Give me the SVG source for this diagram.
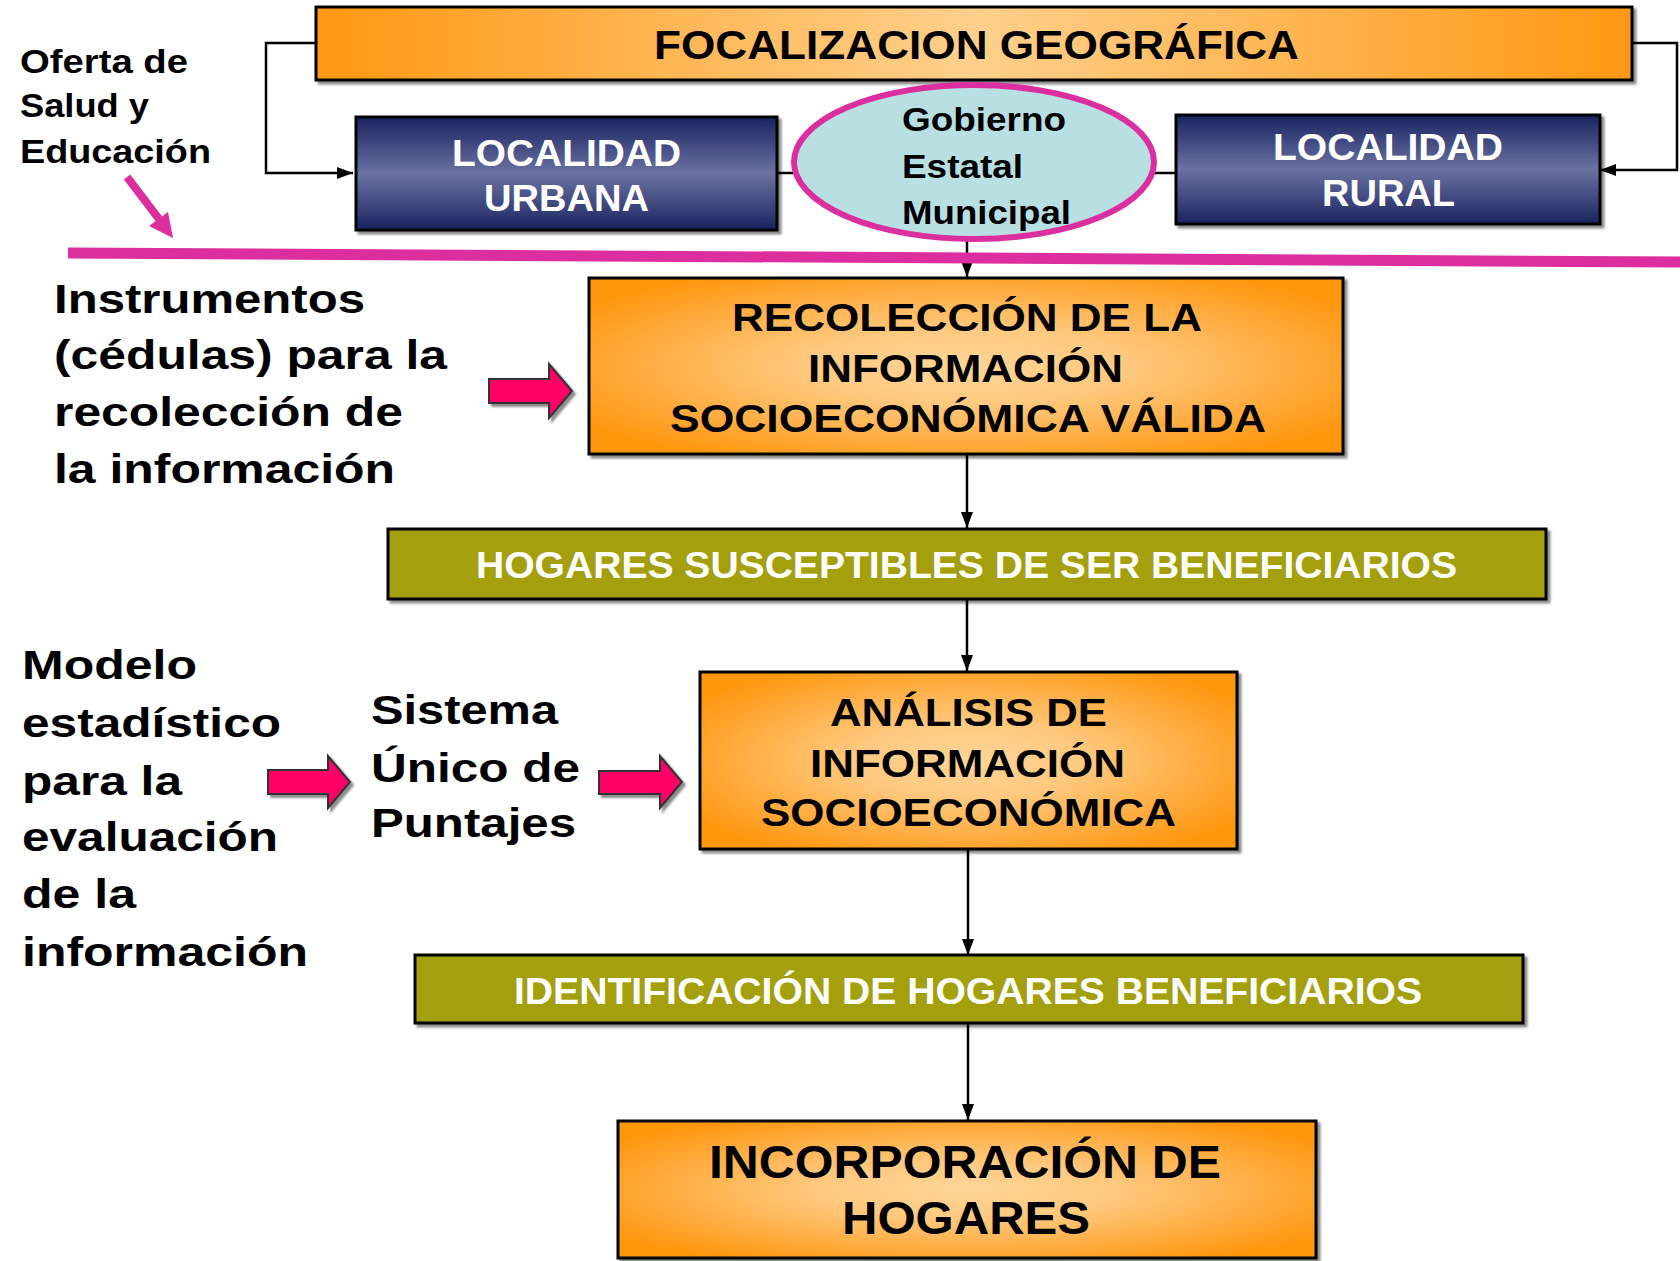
<svg xmlns="http://www.w3.org/2000/svg" width="1680" height="1261" viewBox="0 0 1680 1261">
<defs>
<linearGradient id="gFocal" x1="0" y1="0" x2="1" y2="0">
<stop offset="0" stop-color="#FF9812"/>
<stop offset="0.5" stop-color="#FFD08C"/>
<stop offset="1" stop-color="#FF9812"/>
</linearGradient>
<radialGradient id="gOrange" cx="0.5" cy="0.5" r="0.6">
<stop offset="0" stop-color="#FFD597"/>
<stop offset="0.35" stop-color="#FFC97F"/>
<stop offset="1" stop-color="#FF9710"/>
</radialGradient>
<linearGradient id="gNavy" x1="0" y1="0" x2="0" y2="1">
<stop offset="0" stop-color="#1A2360"/>
<stop offset="0.5" stop-color="#6A72A2"/>
<stop offset="1" stop-color="#1A2360"/>
</linearGradient>
<filter id="sh" x="-5%" y="-5%" width="110%" height="120%">
<feDropShadow dx="3" dy="3" stdDeviation="1.2" flood-color="#000" flood-opacity="0.45"/>
</filter>
<marker id="ah" viewBox="0 0 16 12" refX="16" refY="6" markerWidth="16" markerHeight="12" markerUnits="userSpaceOnUse" orient="auto">
<path d="M0,0 L16,6 L0,12 z" fill="#000"/>
</marker>
</defs>
<style>
.t{font-family:"Liberation Sans",Arial,sans-serif;font-weight:bold}
.k{fill:#000}
.w{fill:#fff}
.box{stroke:#000;stroke-width:3}
.con{fill:none;stroke:#000;stroke-width:2.5}
.blk{fill:#FF0066;stroke:#333;stroke-width:2}
</style>
<rect width="1680" height="1261" fill="#fff"/>

<g id="connectors">
<path class="con" d="M316,43 H266 V173 H353" marker-end="url(#ah)"/>
<path class="con" d="M1632,43 H1677 V170 H1600" marker-end="url(#ah)"/>
<path class="con" d="M777,173 H796"/>
<path class="con" d="M1152,173 H1176"/>
<path class="con" d="M967,240 V277" marker-end="url(#ah)"/>
<path class="con" d="M967,454 V528" marker-end="url(#ah)"/>
<path class="con" d="M967,599 V671" marker-end="url(#ah)"/>
<path class="con" d="M968,850 V955" marker-end="url(#ah)"/>
<path class="con" d="M968,1023 V1120" marker-end="url(#ah)"/>
</g>

<g id="focalizacion">
<rect class="box" x="316" y="7" width="1316" height="73" fill="url(#gFocal)" filter="url(#sh)"/>
<text class="t k" x="654" y="59" font-size="40" textLength="645" lengthAdjust="spacingAndGlyphs">FOCALIZACION GEOGRÁFICA</text>
</g>

<g id="urbana">
<rect class="box" x="356" y="117" width="421" height="113" fill="url(#gNavy)" filter="url(#sh)"/>
<text class="t w" font-size="37"><tspan x="452" y="166" textLength="229" lengthAdjust="spacingAndGlyphs">LOCALIDAD</tspan><tspan x="484" y="211" textLength="165" lengthAdjust="spacingAndGlyphs">URBANA</tspan></text>
</g>

<g id="rural">
<rect class="box" x="1176" y="115" width="424" height="109" fill="url(#gNavy)" filter="url(#sh)"/>
<text class="t w" font-size="37"><tspan x="1273" y="160" textLength="230" lengthAdjust="spacingAndGlyphs">LOCALIDAD</tspan><tspan x="1322" y="206" textLength="133" lengthAdjust="spacingAndGlyphs">RURAL</tspan></text>
</g>

<g id="gobierno">
<ellipse cx="974" cy="162" rx="180" ry="77" fill="#B8E0E3" stroke="#DB2F9F" stroke-width="6"/>
<text class="t k" font-size="34"><tspan x="902" y="131" textLength="164" lengthAdjust="spacingAndGlyphs">Gobierno</tspan><tspan x="902" y="178" textLength="121" lengthAdjust="spacingAndGlyphs">Estatal</tspan><tspan x="902" y="224" textLength="169" lengthAdjust="spacingAndGlyphs">Municipal</tspan></text>
</g>

<g id="oferta">
<text class="t k" font-size="34"><tspan x="20" y="73" textLength="168" lengthAdjust="spacingAndGlyphs">Oferta de</tspan><tspan x="20" y="117" textLength="129" lengthAdjust="spacingAndGlyphs">Salud y</tspan><tspan x="20" y="163" textLength="191" lengthAdjust="spacingAndGlyphs">Educación</tspan></text>
<path d="M127,177 L159,219" stroke="#DC2E9E" stroke-width="8" fill="none"/>
<path d="M173,238 L149,226 L168,212 z" fill="#DC2E9E"/>
</g>

<g id="divider">
<path d="M68,253 L1680,262" stroke="#DC2E9E" stroke-width="11" fill="none"/>
</g>

<g id="instrumentos">
<text class="t k" font-size="40"><tspan x="54" y="313" textLength="311" lengthAdjust="spacingAndGlyphs">Instrumentos</tspan><tspan x="54" y="369" textLength="393" lengthAdjust="spacingAndGlyphs">(cédulas) para la</tspan><tspan x="54" y="426" textLength="349" lengthAdjust="spacingAndGlyphs">recolección de</tspan><tspan x="54" y="483" textLength="341" lengthAdjust="spacingAndGlyphs">la información</tspan></text>
<path class="blk" d="M489,379 H549 V364 L572,391 L549,418 V403 H489 Z" filter="url(#sh)"/>
</g>

<g id="recoleccion">
<rect class="box" x="589" y="278" width="754" height="176" fill="url(#gOrange)" filter="url(#sh)"/>
<text class="t k" font-size="38"><tspan x="732" y="331" textLength="470" lengthAdjust="spacingAndGlyphs">RECOLECCIÓN DE LA</tspan><tspan x="808" y="382" textLength="315" lengthAdjust="spacingAndGlyphs">INFORMACIÓN</tspan><tspan x="670" y="432" textLength="596" lengthAdjust="spacingAndGlyphs">SOCIOECONÓMICA VÁLIDA</tspan></text>
</g>

<g id="susceptibles">
<rect class="box" x="388" y="529" width="1158" height="70" fill="#A4A011" filter="url(#sh)"/>
<text class="t w" x="476" y="578" font-size="37" textLength="981" lengthAdjust="spacingAndGlyphs">HOGARES SUSCEPTIBLES DE SER BENEFICIARIOS</text>
</g>

<g id="modelo">
<text class="t k" font-size="40"><tspan x="22" y="679" textLength="175" lengthAdjust="spacingAndGlyphs">Modelo</tspan><tspan x="22" y="737" textLength="259" lengthAdjust="spacingAndGlyphs">estadístico</tspan><tspan x="22" y="795" textLength="160" lengthAdjust="spacingAndGlyphs">para la</tspan><tspan x="22" y="851" textLength="256" lengthAdjust="spacingAndGlyphs">evaluación</tspan><tspan x="22" y="908" textLength="114" lengthAdjust="spacingAndGlyphs">de la</tspan><tspan x="22" y="966" textLength="286" lengthAdjust="spacingAndGlyphs">información</tspan></text>
<path class="blk" d="M268,770 H328 V756 L350,782 L328,808 V794 H268 Z" filter="url(#sh)"/>
</g>

<g id="sistema">
<text class="t k" font-size="40"><tspan x="371" y="724" textLength="187" lengthAdjust="spacingAndGlyphs">Sistema</tspan><tspan x="371" y="782" textLength="209" lengthAdjust="spacingAndGlyphs">Único de</tspan><tspan x="371" y="837" textLength="205" lengthAdjust="spacingAndGlyphs">Puntajes</tspan></text>
<path class="blk" d="M599,771 H660 V756 L682,782 L660,808 V794 H599 Z" filter="url(#sh)"/>
</g>

<g id="analisis">
<rect class="box" x="700" y="672" width="537" height="177" fill="url(#gOrange)" filter="url(#sh)"/>
<text class="t k" font-size="38"><tspan x="830" y="726" textLength="277" lengthAdjust="spacingAndGlyphs">ANÁLISIS DE</tspan><tspan x="810" y="777" textLength="315" lengthAdjust="spacingAndGlyphs">INFORMACIÓN</tspan><tspan x="761" y="826" textLength="415" lengthAdjust="spacingAndGlyphs">SOCIOECONÓMICA</tspan></text>
</g>

<g id="identificacion">
<rect class="box" x="415" y="955" width="1108" height="68" fill="#A4A011" filter="url(#sh)"/>
<text class="t w" x="514" y="1004" font-size="37" textLength="908" lengthAdjust="spacingAndGlyphs">IDENTIFICACIÓN DE HOGARES BENEFICIARIOS</text>
</g>

<g id="incorporacion">
<rect class="box" x="618" y="1121" width="698" height="137" fill="url(#gOrange)" filter="url(#sh)"/>
<text class="t k" font-size="46"><tspan x="709" y="1178" textLength="512" lengthAdjust="spacingAndGlyphs">INCORPORACIÓN DE</tspan><tspan x="842" y="1234" textLength="248" lengthAdjust="spacingAndGlyphs">HOGARES</tspan></text>
</g>
</svg>
